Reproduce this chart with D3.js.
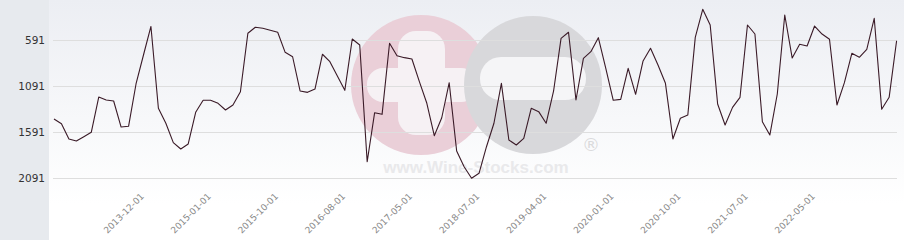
<!DOCTYPE html>
<html>
<head>
<meta charset="utf-8">
<script src="https://cdn.jsdelivr.net/npm/d3@7"></script>
<style>
  html, body { margin: 0; padding: 0; background: #fff; }
  svg { display: block; font-family: "DejaVu Sans", sans-serif; }
</style>
</head>
<body>
<script>
// ranking values, one per point (lower is better, so the axis is flipped)
var values = [
  1450, 1501, 1667, 1689, 1642, 1594, 1211, 1243, 1254, 1537,
  1529, 1069, 754, 444, 1333, 1496, 1707, 1776, 1721, 1377,
  1246, 1246, 1279, 1352, 1298, 1153, 518, 453, 464, 486,
  507, 725, 773, 1145, 1160, 1124, 746, 827, 982, 1138,
  580, 645, 1914, 1381, 1399, 627, 762, 783, 798, 1044,
  1279, 1631, 1436, 1055, 1798, 1968, 2094, 2040, 1751, 1496,
  1062, 1678, 1732, 1660, 1333, 1370, 1496, 1145, 573, 507,
  1243, 790, 718, 566, 899, 1246, 1236, 899, 1181, 819,
  681, 863, 1062, 1667, 1442, 1406, 562, 257, 428, 1287,
  1515, 1323, 1214, 428, 526, 1479, 1624, 1178, 319, 787,
  638, 656, 439, 526, 583, 1298, 1055, 736, 779, 692,
  355, 1344, 1214, 599
];

// labelled categories (index into values) and their dates
var tickIndex = [12, 21, 30, 39, 48, 57, 66, 75, 84, 93, 102];
var tickLabels = ["2013-12-01", "2015-01-01", "2015-10-01", "2016-08-01", "2017-05-01",
                  "2018-07-01", "2019-04-01", "2020-01-01", "2020-10-01", "2021-07-01", "2022-05-01"];

var yTicks = [591, 1091, 1591, 2091];

var width = 904, height = 240;

var svg = d3.select("body").append("svg")
    .attr("width", width)
    .attr("height", height);

var defs = svg.append("defs");
var grad = defs.append("linearGradient")
    .attr("id", "bg")
    .attr("x1", 0).attr("y1", 0).attr("x2", 0).attr("y2", 1);
grad.append("stop").attr("offset", "0%").attr("stop-color", "#eceef3");
grad.append("stop").attr("offset", "85%").attr("stop-color", "#ffffff");

// background: grey strip on the left, soft gradient elsewhere
svg.append("rect").attr("x", 0).attr("y", 0).attr("width", width).attr("height", height).attr("fill", "url(#bg)");
svg.append("rect").attr("x", 0).attr("y", 0).attr("width", 49).attr("height", height).attr("fill", "#e7eaee");

// watermark logo
var wm = svg.append("g").attr("class", "watermark");
wm.append("circle").attr("cx", 421).attr("cy", 85).attr("r", 70).attr("fill", "#eacfd8");
wm.append("rect").attr("x", 398).attr("y", 31).attr("width", 47).attr("height", 104).attr("rx", 18).attr("fill", "#f6f1f4");
wm.append("rect").attr("x", 367).attr("y", 68).attr("width", 110).attr("height", 34).attr("rx", 16).attr("fill", "#f6f1f4");
wm.append("circle").attr("cx", 533).attr("cy", 85).attr("r", 69).attr("fill", "#d8d8db");
wm.append("rect").attr("x", 480).attr("y", 57).attr("width", 106).attr("height", 43).attr("rx", 21).attr("fill", "#f5f5f7");
wm.append("text").attr("x", 476).attr("y", 173).attr("text-anchor", "middle")
    .attr("font-family", "Liberation Sans, Arial, sans-serif")
    .attr("font-size", 17).attr("font-weight", "bold").attr("fill", "#e9e9eb")
    .text("www.Wine-Stocks.com");
wm.append("text").attr("x", 591).attr("y", 151).attr("text-anchor", "middle")
    .attr("font-size", 18).attr("fill", "#dadadc")
    .text("®");

var x = d3.scalePoint()
    .domain(d3.range(values.length))
    .range([54, 896.6]);

var y = d3.scaleLinear()
    .domain([591, 2091])
    .range([40, 178]);

// horizontal grid
svg.selectAll(".grid")
    .data(yTicks)
    .enter()
    .append("line")
    .attr("class", "grid")
    .attr("x1", 53).attr("x2", 897)
    .attr("y1", function(d){ return y(d) + 0.5; })
    .attr("y2", function(d){ return y(d) + 0.5; })
    .attr("stroke", "#dedede")
    .attr("stroke-width", 1);

// y labels
svg.selectAll(".ylab")
    .data(yTicks)
    .enter()
    .append("text")
    .attr("class", "ylab")
    .attr("x", 45)
    .attr("y", function(d){ return y(d); })
    .attr("dy", "0.36em")
    .attr("text-anchor", "end")
    .attr("font-size", "10.5px")
    .attr("fill", "#333")
    .text(function(d){ return d; });

// the line
var line = d3.line()
    .x(function(d, i){ return x(i); })
    .y(function(d){ return y(d); });

svg.append("path")
    .datum(values)
    .attr("d", line)
    .attr("fill", "none")
    .attr("stroke", "#3a1a27")
    .attr("stroke-width", 1.1)
    .attr("stroke-linejoin", "round");

// x labels, rotated
svg.selectAll(".xlab")
    .data(tickIndex)
    .enter()
    .append("text")
    .attr("class", "xlab")
    .attr("text-anchor", "end")
    .attr("font-size", "9px")
    .attr("fill", "#888")
    .attr("transform", function(d){ return "translate(" + (x(d) + 1) + ",197) rotate(-45)"; })
    .text(function(d, i){ return tickLabels[i]; });
</script>
</body>
</html>
